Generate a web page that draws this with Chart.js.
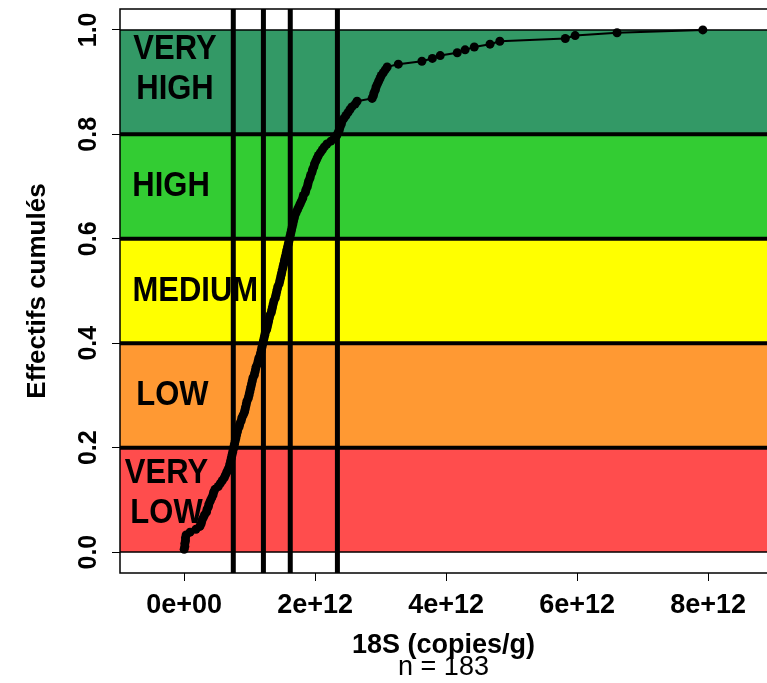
<!DOCTYPE html>
<html>
<head>
<meta charset="utf-8">
<script src="https://cdn.jsdelivr.net/npm/chart.js@4/dist/chart.umd.min.js"></script>
<style>
  html, body { margin: 0; padding: 0; background: #fff; }
  canvas { display: block; }
</style>
</head>
<body>
<canvas id="ecdfChart" width="767" height="683"></canvas>
<script>
// 18S (copies/g), sorted, in units of 1e12
const copies = [
  0.00, 0.01, 0.01, 0.02, 0.02, 0.03, 0.09, 0.18, 0.24, 0.26,
  0.27, 0.29, 0.31, 0.34, 0.35, 0.37, 0.38, 0.40, 0.42, 0.44,
  0.45, 0.47, 0.52, 0.55, 0.58, 0.61, 0.63, 0.65, 0.67, 0.69,
  0.70, 0.71, 0.72, 0.73, 0.74, 0.75, 0.76, 0.77, 0.78, 0.79,
  0.80, 0.81, 0.82, 0.84, 0.85, 0.87, 0.88, 0.90, 0.92, 0.93,
  0.94, 0.95, 0.96, 0.98, 0.99, 1.00, 1.01, 1.02, 1.03, 1.04,
  1.05, 1.07, 1.08, 1.09, 1.10, 1.12, 1.13, 1.14, 1.16, 1.17,
  1.18, 1.19, 1.20, 1.21, 1.22, 1.23, 1.24, 1.26, 1.27, 1.28,
  1.29, 1.30, 1.31, 1.33, 1.34, 1.35, 1.36, 1.37, 1.39, 1.40,
  1.41, 1.42, 1.43, 1.45, 1.46, 1.47, 1.48, 1.49, 1.50, 1.51,
  1.52, 1.53, 1.54, 1.55, 1.56, 1.57, 1.58, 1.59, 1.60, 1.61,
  1.62, 1.63, 1.64, 1.65, 1.66, 1.67, 1.68, 1.69, 1.71, 1.73,
  1.75, 1.77, 1.79, 1.81, 1.82, 1.85, 1.86, 1.88, 1.89, 1.90,
  1.92, 1.93, 1.95, 1.96, 1.98, 1.99, 2.01, 2.03, 2.05, 2.08,
  2.11, 2.14, 2.18, 2.24, 2.29, 2.33, 2.35, 2.37, 2.38, 2.40,
  2.41, 2.44, 2.47, 2.50, 2.53, 2.56, 2.61, 2.64, 2.87, 2.89,
  2.90, 2.92, 2.93, 2.95, 2.97, 2.99, 3.01, 3.04, 3.07, 3.10,
  3.27, 3.63, 3.79, 3.91, 4.17, 4.29, 4.43, 4.67, 4.82, 5.82,
  5.97, 6.61, 7.92
];
const xTicks = [0, 2, 4, 6, 8];
const yTicks = [0, 0.2, 0.4, 0.6, 0.8, 1.0];
const bandBreaks = [0, 0.2, 0.4, 0.6, 0.8, 1.0];
const bandColors = ["#FF4D4D", "#FF9933", "#FFFF00", "#33CC33", "#339966"];
const bandLabels = [["VERY", "LOW"], ["LOW"], ["MEDIUM"], ["HIGH"], ["VERY", "HIGH"]];
const quantileCuts = [0.75, 1.21, 1.62, 2.34];

// where each band label sits (data units)
const labelX = [-0.27, -0.18, 0.17, -0.20, -0.14];
const labelY = [0.113, 0.30, 0.50, 0.70, 0.925];

const n = copies.length;
const points = copies.map((v, i) => ({ x: v, y: (i + 1) / n }));

const FONT = "'Liberation Sans', Arial, sans-serif";

const bandsPlugin = {
  id: "bands",
  beforeDraw(chart) {
    const ctx = chart.ctx;
    ctx.save();
    ctx.fillStyle = "#fff";
    ctx.fillRect(0, 0, chart.width, chart.height);
    ctx.restore();
  },
  beforeDatasetsDraw(chart) {
    const { ctx, chartArea: a, scales: { x, y } } = chart;
    ctx.save();
    // coloured bands
    bandColors.forEach((c, i) => {
      const top = y.getPixelForValue(bandBreaks[i + 1]);
      const bot = y.getPixelForValue(bandBreaks[i]);
      ctx.fillStyle = c;
      ctx.fillRect(a.left, top, a.right - a.left, bot - top);
    });
    // band edges
    ctx.strokeStyle = "#000";
    bandBreaks.forEach((b, i) => {
      const py = y.getPixelForValue(b);
      const outer = i === 0 || i === bandBreaks.length - 1;
      ctx.lineWidth = outer ? 1.5 : 4;
      ctx.beginPath();
      ctx.moveTo(a.left, py);
      ctx.lineTo(a.right, py);
      ctx.stroke();
    });
    // band names
    ctx.fillStyle = "#000";
    ctx.font = "bold 31px " + FONT;
    ctx.textAlign = "center";
    ctx.textBaseline = "middle";
    bandLabels.forEach((lines, i) => {
      const cx = x.getPixelForValue(labelX[i]);
      const cy = y.getPixelForValue(labelY[i]);
      lines.forEach((txt, j) => {
        const ly = cy + (j - (lines.length - 1) / 2) * 40;
        ctx.save();
        ctx.translate(cx, ly);
        ctx.scale(1, 1.12);
        ctx.fillText(txt, 0, 0);
        ctx.restore();
      });
    });
    // quantile lines
    ctx.lineWidth = 5;
    quantileCuts.forEach((q) => {
      const px = x.getPixelForValue(q);
      ctx.beginPath();
      ctx.moveTo(px, a.top);
      ctx.lineTo(px, a.bottom);
      ctx.stroke();
    });
    ctx.restore();
  },
  afterDraw(chart) {
    const { ctx, chartArea: a } = chart;
    ctx.save();
    ctx.strokeStyle = "#000";
    ctx.lineWidth = 1.5;
    ctx.strokeRect(a.left, a.top, a.right - a.left + 2, a.bottom - a.top);
    ctx.fillStyle = "#000";
    ctx.font = "27px " + FONT;
    ctx.textAlign = "center";
    ctx.textBaseline = "middle";
    ctx.fillText("n = " + n, (a.left + a.right) / 2, 668);
    ctx.restore();
  },
};

new Chart(document.getElementById("ecdfChart").getContext("2d"), {
  type: "scatter",
  data: {
    datasets: [
      {
        data: points,
        showLine: true,
        borderColor: "#000",
        borderWidth: 2,
        pointRadius: 4.5,
        pointBackgroundColor: "#000",
        pointBorderWidth: 0,
        pointHoverRadius: 4.5,
      },
    ],
  },
  options: {
    responsive: false,
    animation: false,
    devicePixelRatio: 1,
    layout: { autoPadding: false, padding: { top: 9, left: 0, right: 0, bottom: 0 } },
    plugins: {
      legend: { display: false },
      tooltip: { enabled: false },
    },
    scales: {
      x: {
        type: "linear",
        min: -0.98,
        max: 8.9,
        afterFit: (s) => {
          s.height = 110;
          s.paddingLeft = 0;
          s.paddingRight = 0;
        },
        afterBuildTicks: (s) => { s.ticks = xTicks.map((v) => ({ value: v })); },
        border: { display: false },
        grid: { drawOnChartArea: false, drawTicks: true, tickLength: 8, color: "#000", lineWidth: 1 },
        ticks: {
          color: "#000",
          padding: 8,
          maxRotation: 0,
          autoSkip: false,
          font: { family: FONT, size: 27, weight: "bold" },
          callback: (v) => (v === 0 ? "0e+00" : v + "e+12"),
        },
        title: {
          display: true,
          text: "18S (copies/g)",
          color: "#000",
          font: { family: FONT, size: 27, weight: "bold" },
          padding: { top: 0, bottom: 21 },
        },
      },
      y: {
        type: "linear",
        min: -0.04,
        max: 1.04,
        afterFit: (s) => {
          s.width = 120;
          s.paddingTop = 0;
          s.paddingBottom = 0;
        },
        afterBuildTicks: (s) => { s.ticks = yTicks.map((v) => ({ value: v })); },
        border: { display: false },
        grid: { drawOnChartArea: false, drawTicks: true, tickLength: 8, color: "#000", lineWidth: 1 },
        ticks: {
          color: "#000",
          padding: 6,
          minRotation: 90,
          maxRotation: 90,
          crossAlign: "center",
          autoSkip: false,
          font: { family: FONT, size: 25, weight: "bold" },
          callback: (v) => v.toFixed(1),
        },
        title: {
          display: true,
          text: "Effectifs cumulés",
          color: "#000",
          font: { family: FONT, size: 26, weight: "bold" },
          padding: { top: 22, bottom: 0 },
        },
      },
    },
  },
  plugins: [bandsPlugin],
});
</script>
</body>
</html>
